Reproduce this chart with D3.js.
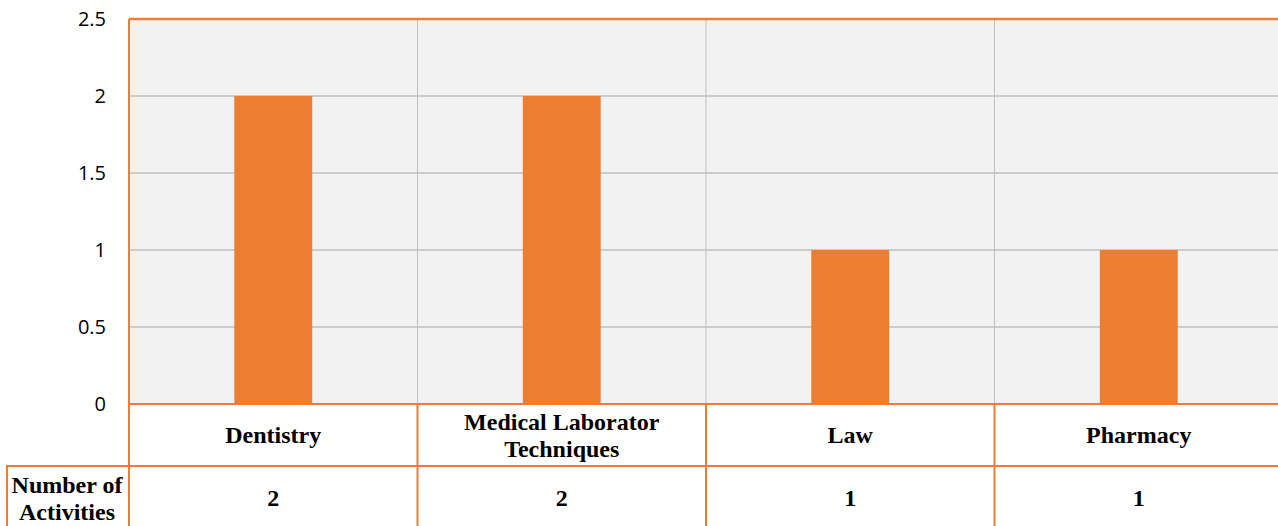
<!DOCTYPE html>
<html><head><meta charset="utf-8">
<script src="https://cdn.jsdelivr.net/npm/d3@7"></script>
<style>body{margin:0;background:#fff;}svg{display:block;}</style>
</head><body>
<script>
const categories = ["Dentistry", "Medical Laborator\nTechniques", "Law", "Pharmacy"];
const values = [2, 2, 1, 1];
const yTicks = [0, 0.5, 1, 1.5, 2, 2.5];
const rowHeader = "Number of\nActivities";

(function () {
const W = 1278, H = 526;
const pL = 129, pR = 1283, pT = 19, pB = 404;
const row1 = 466, row2 = 530;
const orange = "#ED7D31";

const svg = d3.select("body").append("svg").attr("width", W).attr("height", H);

const x = d3.scaleBand().domain(categories).range([pL, pR]).paddingInner(0).paddingOuter(0);
const y = d3.scaleLinear().domain([0, 2.5]).range([pB, pT]);

svg.append("rect").attr("x", pL).attr("y", pT).attr("width", pR - pL).attr("height", pB - pT).attr("fill", "#F2F2F2");

svg.append("g").selectAll("line").data(yTicks.filter(d => d > 0 && d < 2.5)).join("line")
  .attr("x1", pL).attr("x2", pR).attr("y1", d => y(d)).attr("y2", d => y(d))
  .attr("stroke", "#A6A6A6").attr("stroke-width", 1);
svg.append("g").selectAll("line").data(categories.slice(1)).join("line")
  .attr("x1", d => x(d)).attr("x2", d => x(d)).attr("y1", pT).attr("y2", pB)
  .attr("stroke", "#C0C0C0").attr("stroke-width", 1);

const bw = x.bandwidth() * 0.27;
svg.append("g").selectAll("rect").data(categories).join("rect")
  .attr("x", d => x(d) + x.bandwidth() / 2 - bw / 2)
  .attr("y", (d, i) => y(values[i]))
  .attr("width", bw)
  .attr("height", (d, i) => y(0) - y(values[i]))
  .attr("fill", orange);

svg.append("g").selectAll("text").data(yTicks).join("text")
  .attr("x", 106).attr("y", d => y(d)).attr("dy", "0.35em")
  .attr("text-anchor", "end")
  .attr("font-family", "'Open Sans', 'Liberation Sans', sans-serif").attr("font-size", 20)
  .attr("fill", "#000").text(d => d);

svg.append("line").attr("x1", pL).attr("x2", pR).attr("y1", pT).attr("y2", pT).attr("stroke", orange).attr("stroke-width", 2.5);
svg.append("line").attr("x1", pL).attr("x2", pL).attr("y1", pT).attr("y2", row2).attr("stroke", orange).attr("stroke-width", 2);
svg.append("line").attr("x1", pL).attr("x2", pR).attr("y1", pB).attr("y2", pB).attr("stroke", orange).attr("stroke-width", 2);
svg.append("line").attr("x1", 6).attr("x2", pR).attr("y1", row1).attr("y2", row1).attr("stroke", orange).attr("stroke-width", 2);
svg.append("line").attr("x1", 7).attr("x2", 7).attr("y1", row1).attr("y2", row2).attr("stroke", orange).attr("stroke-width", 2);
svg.append("g").selectAll("line").data(categories.slice(1)).join("line")
  .attr("x1", d => x(d)).attr("x2", d => x(d)).attr("y1", pB).attr("y2", row2)
  .attr("stroke", orange).attr("stroke-width", 2);

const serif = "'Liberation Serif', 'Times New Roman', serif";
function multiText(g, lines, cx, cy, lh) {
  const n = lines.length;
  lines.forEach((l, i) => {
    g.append("text").attr("x", cx).attr("y", cy + (i - (n - 1) / 2) * lh).attr("dy", "0.35em")
      .attr("text-anchor", "middle").attr("font-family", serif).attr("font-weight", "bold")
      .attr("font-size", 24).attr("fill", "#000").text(l);
  });
}
const tg = svg.append("g");
categories.forEach((c, i) => {
  const cx = x(c) + x.bandwidth() / 2;
  multiText(tg, c.split("\n"), cx, (pB + row1) / 2, 27);
  multiText(tg, [String(values[i])], cx, 498, 27);
});
multiText(tg, rowHeader.split("\n"), 67, 498, 27);
})();
</script>
</body></html>
